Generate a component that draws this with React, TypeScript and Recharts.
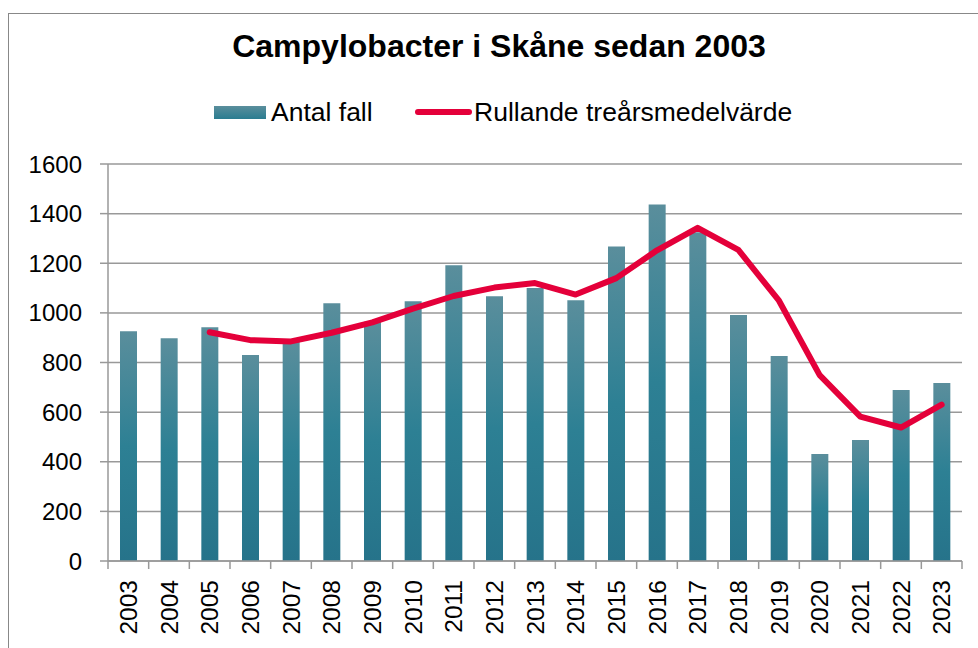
import React from 'react';
import { ComposedChart, Bar, Line, XAxis, YAxis, CartesianGrid, Legend } from 'recharts';

const years = [
    '2003', '2004', '2005', '2006', '2007', '2008', '2009', '2010', '2011', '2012', '2013',
    '2014', '2015', '2016', '2017', '2018', '2019', '2020', '2021', '2022', '2023',
];
// Antal fall
const cases = [926, 898, 942, 830, 883, 1039, 964, 1047, 1192, 1067, 1100, 1051, 1268, 1437, 1325, 991, 826, 431, 488, 689, 717];
// Rullande treårsmedelvärde (starts 2005)
const rollingAvg = [null, null, 922, 890, 885, 920, 962, 1017, 1068, 1102, 1120, 1074, 1140, 1252, 1343, 1254, 1049, 749, 582, 538, 630];
const yTicks = [0, 200, 400, 600, 800, 1000, 1200, 1400, 1600];

const W = 978;
const H = 648;
const PLOT_LEFT = 108;
const PLOT_RIGHT = 962;
const BAND = (PLOT_RIGHT - PLOT_LEFT) / years.length;

const data = years.map((year, i) => ({ year, cases: cases[i], avg: rollingAvg[i] }));

const FONT = '"Liberation Sans", Arial, sans-serif';

function YearTick(props: any) {
    const { x, y, payload, index } = props;
    const left = x - BAND / 2;
    const right = x + BAND / 2;
    return (
        <g>
            <line x1={left} y1={y} x2={left} y2={y + 8} stroke="#999" strokeWidth={1.5} />
            {index === years.length - 1 && (
                <line x1={right} y1={y} x2={right} y2={y + 8} stroke="#999" strokeWidth={1.5} />
            )}
            <text
                transform={`translate(${x},${y + 19}) rotate(-90)`}
                textAnchor="end"
                dy="0.36em"
                fill="#000"
                fontSize={24.5}
                fontFamily={FONT}
            >
                {payload.value}
            </text>
        </g>
    );
}

function LegendBox() {
    return (
        <div style={{ position: 'relative', height: 40, fontFamily: FONT, fontSize: 26.5, color: '#000' }}>
            <div style={{ position: 'absolute', left: 214, top: 15, width: 52, height: 13, background: 'linear-gradient(#5a8e9c, #2a7c90)' }} />
            <div style={{ position: 'absolute', left: 271, top: 7, lineHeight: '28px', whiteSpace: 'nowrap' }}>Antal fall</div>
            <div style={{ position: 'absolute', left: 415, top: 18, width: 57, height: 6, borderRadius: 3, background: '#e4003a' }} />
            <div style={{ position: 'absolute', left: 474, top: 7, lineHeight: '28px', whiteSpace: 'nowrap' }}>Rullande treårsmedelvärde</div>
        </div>
    );
}

export default function App() {
    return (
        <div style={{ position: 'absolute', left: 0, top: 0, width: W, height: H, overflow: 'hidden', background: '#fff' }}>
            {/* outer chart frame, runs off the right and bottom edge */}
            <div style={{ position: 'absolute', left: 8, top: 13, width: 1100, height: 800, border: '1.5px solid #888' }} />
            <div
                style={{
                    position: 'absolute',
                    left: 0,
                    width: 998,
                    top: 30,
                    textAlign: 'center',
                    fontFamily: FONT,
                    fontWeight: 'bold',
                    fontSize: 32,
                    lineHeight: '32px',
                    color: '#000',
                    whiteSpace: 'nowrap',
                }}
            >
                Campylobacter i Skåne sedan 2003
            </div>
            <ComposedChart
                width={W}
                height={H}
                data={data}
                margin={{ top: 124, right: W - PLOT_RIGHT, left: 0, bottom: 0 }}
                barCategoryGap={0}
                style={{ position: 'absolute', left: 0, top: 0 }}
            >
                <defs>
                    <linearGradient id="barFill" x1="0" y1="0" x2="0" y2="1">
                        <stop offset="0%" stopColor="#5a8e9c" />
                        <stop offset="50%" stopColor="#2d8094" />
                        <stop offset="100%" stopColor="#26738a" />
                    </linearGradient>
                </defs>
                <CartesianGrid vertical={false} stroke="#999" strokeWidth={1.5} />
                <XAxis
                    dataKey="year"
                    height={87}
                    interval={0}
                    tickSize={0}
                    tickMargin={0}
                    tickLine={false}
                    axisLine={{ stroke: '#999', strokeWidth: 1.5 }}
                    tick={<YearTick />}
                />
                <YAxis
                    width={PLOT_LEFT}
                    domain={[0, 1600]}
                    ticks={yTicks}
                    interval={0}
                    tickSize={8}
                    tickMargin={18}
                    axisLine={{ stroke: '#999', strokeWidth: 1.5 }}
                    tickLine={{ stroke: '#999', strokeWidth: 1.5 }}
                    tick={{ fill: '#000', fontSize: 24, fontFamily: FONT }}
                />
                <Legend verticalAlign="top" align="left" content={<LegendBox />} wrapperStyle={{ top: 91, left: 0, width: W, height: 40 }} />
                <Bar dataKey="cases" name="Antal fall" fill="url(#barFill)" barSize={17} isAnimationActive={false} />
                <Line
                    dataKey="avg"
                    name="Rullande treårsmedelvärde"
                    type="linear"
                    stroke="#e4003a"
                    strokeWidth={6}
                    strokeLinecap="round"
                    strokeLinejoin="round"
                    dot={false}
                    activeDot={false}
                    connectNulls={false}
                    isAnimationActive={false}
                />
            </ComposedChart>
        </div>
    );
}
